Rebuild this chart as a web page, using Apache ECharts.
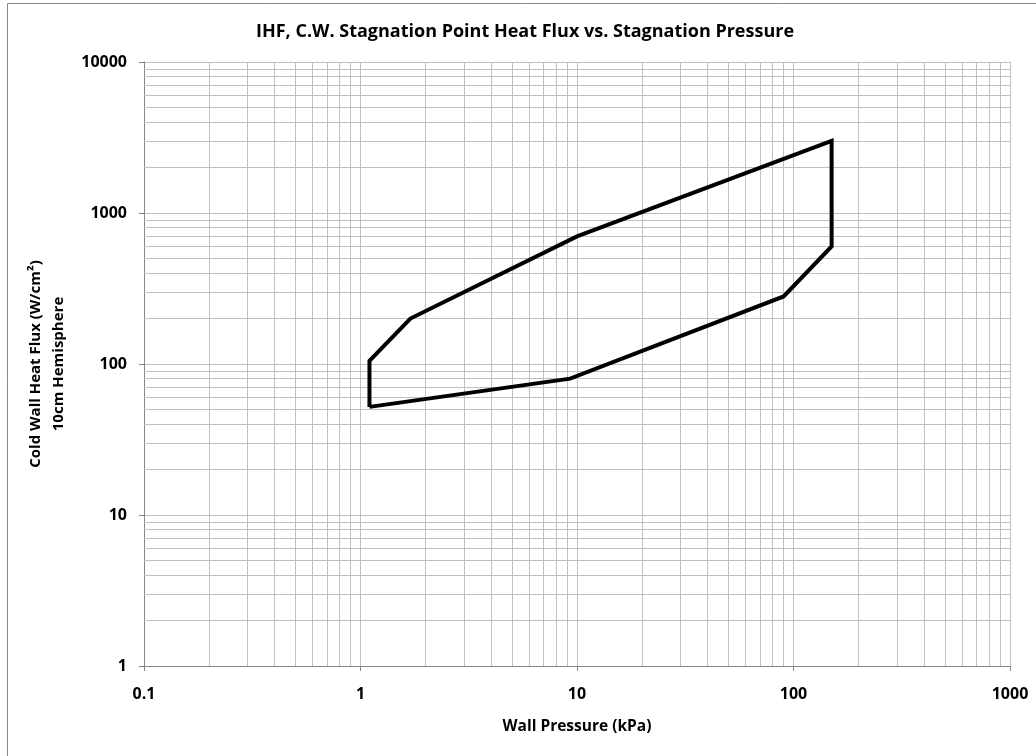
<!DOCTYPE html>
<html><head><meta charset="utf-8">
<script src="https://cdn.jsdelivr.net/npm/echarts@6/dist/echarts.min.js"></script>
<style>html,body{margin:0;padding:0;background:#fff}#c{width:1036px;height:756px}</style>
</head><body><div id="c"></div>
<script>
var envelopeX = [1.1, 1.1, 1.7, 10, 150, 150, 90, 9.3, 1.1];
var envelopeY = [52, 105, 200, 700, 3000, 600, 280, 80, 52];
var xTicks = [0.1, 1, 10, 100, 1000];
var yTicks = [1, 10, 100, 1000, 10000];
var minorX = [0.2,0.3,0.4,0.5,0.6,0.7,0.8,0.9, 2,3,4,5,6,7,8,9, 20,30,40,50,60,70,80,90, 200,300,400,500,600,700,800,900];
var minorY = [2,3,4,5,6,7,8,9, 20,30,40,50,60,70,80,90, 200,300,400,500,600,700,800,900, 2000,3000,4000,5000,6000,7000,8000,9000];

var font = 'Open Sans';
var grid = '#c0c0c0';
var axisC = '#868686';
var data = envelopeX.map(function(x,i){return [x, envelopeY[i]];});
var ml = minorX.map(function(v){return {xAxis: v};}).concat(minorY.map(function(v){return {yAxis: v};}));

var chart = echarts.init(document.getElementById('c'));
chart.setOption({
  animation: false,
  backgroundColor: '#fff',
  textStyle: {fontFamily: font},
  graphic: [{type:'rect', shape:{x:7.5, y:3.5, width:1200, height:1000}, style:{fill:'none', stroke:'#888', lineWidth:1}, silent:true, z:-10}],
  title: {text: 'IHF, C.W. Stagnation Point Heat Flux vs. Stagnation Pressure', left: 251, top: 18,
    textStyle: {fontFamily: font, fontSize: 18, fontWeight: 'bold', color: '#000'}},
  grid: {left: 144, right: 26, top: 62, bottom: 90},
  xAxis: {type: 'log', logBase: 10, min: xTicks[0], max: xTicks[xTicks.length-1],
    name: 'Wall Pressure (kPa)', nameLocation: 'middle', nameGap: 53,
    nameTextStyle: {fontFamily: font, fontSize: 15.5, fontWeight: 'bold', color: '#000'},
    axisLine: {show: true, lineStyle: {color: axisC, width: 1}},
    axisTick: {show: true, length: 5, inside: false, lineStyle: {color: axisC}},
    axisLabel: {fontFamily: font, fontSize: 16, fontWeight: 'bold', color: '#000', margin: 20,
      formatter: function(v){return String(v);}},
    splitLine: {show: true, lineStyle: {color: grid, width: 1}}},
  yAxis: {type: 'log', logBase: 10, min: yTicks[0], max: yTicks[yTicks.length-1],
    name: 'Cold Wall Heat Flux (W/cm\u00b2)\n10cm Hemisphere', nameLocation: 'middle', nameGap: 72, nameRotate: 90,
    nameTextStyle: {fontFamily: font, fontSize: 15, fontWeight: 'bold', color: '#000', lineHeight: 23},
    axisLine: {show: true, lineStyle: {color: axisC, width: 1}},
    axisTick: {show: true, length: 5, inside: false, lineStyle: {color: axisC}},
    axisLabel: {fontFamily: font, fontSize: 16, fontWeight: 'bold', color: '#000', margin: 17,
      formatter: function(v){return String(v);}},
    splitLine: {show: true, lineStyle: {color: grid, width: 1}}},
  series: [
    {type: 'line', data: [], silent: true,
      markLine: {silent: true, symbol: ['none','none'], label: {show: false}, animation: false,
        lineStyle: {type: 'solid', color: grid, width: 1}, emphasis: {disabled: true}, data: ml}},
    {type: 'line', data: data, symbol: 'none', silent: true, z: 5,
      lineStyle: {color: '#000', width: 4, join: 'miter'}}
  ]
});
</script></body></html>
